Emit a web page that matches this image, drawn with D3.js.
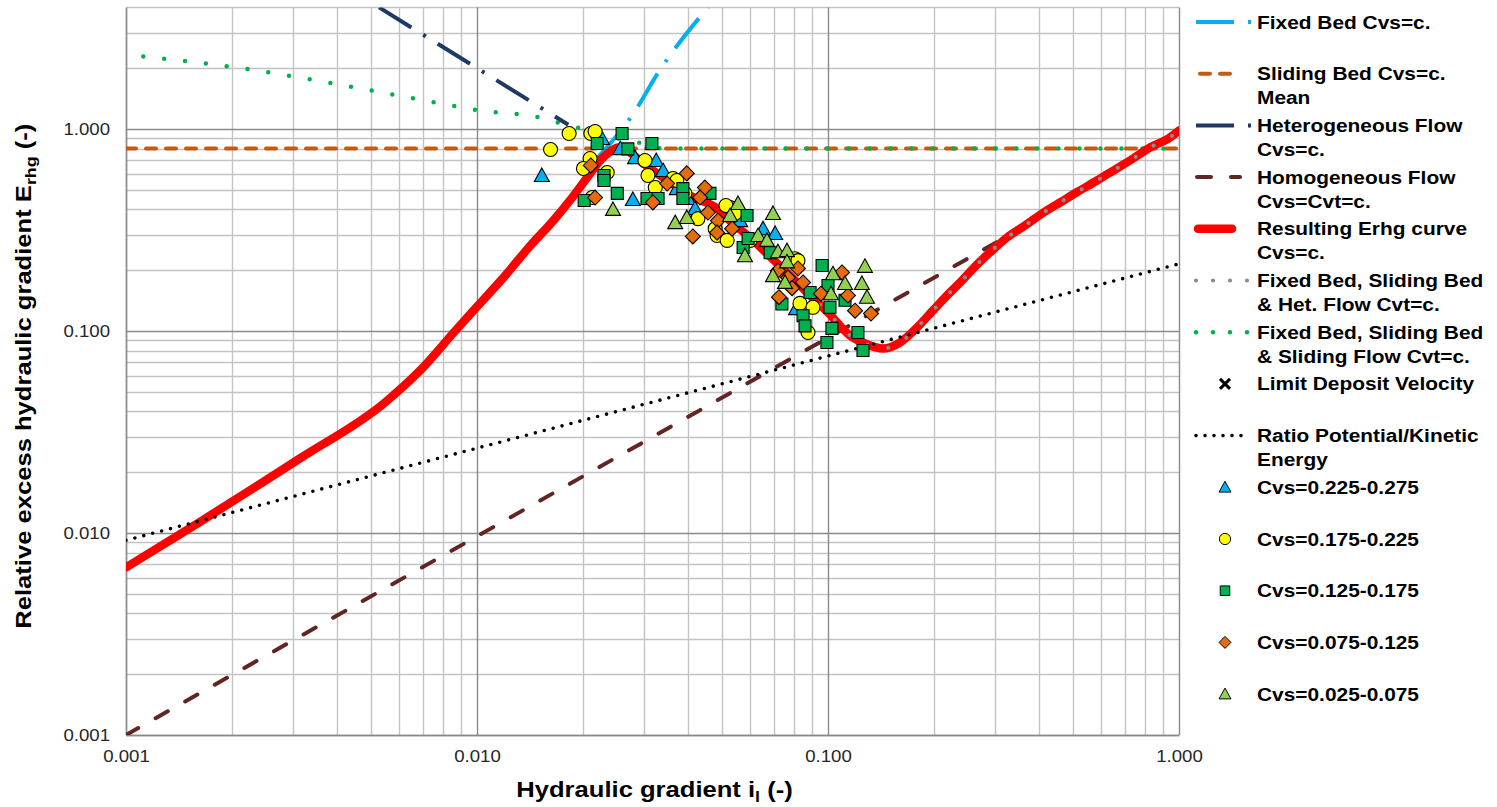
<!DOCTYPE html>
<html><head><meta charset="utf-8">
<script src="https://cdn.jsdelivr.net/npm/d3@7"></script>
<style>body{margin:0;background:#fff;} text{font-family:"Liberation Sans",Arial,sans-serif;}</style>
</head><body><svg id="chart" width="1497" height="807"></svg>
<script>
// ---------------- data ----------------
const xTickValues = [0.001, 0.01, 0.1, 1];
const xTickLabels = ["0.001", "0.010", "0.100", "1.000"];
const yTickValues = [0.001, 0.01, 0.1, 1];
const yTickLabels = ["0.001", "0.010", "0.100", "1.000"];

const fixedBed = [[0.0217,0.70],[0.0277,1.17],[0.0332,1.96],[0.0455,4.0]];
const slidingBed = [[0.001,0.80],[1,0.80]];
const heterogeneous = [[0.00526,4.0],[0.0182,1.05]];
const homogeneous = [[0.001,0.001],[0.33,0.30]];
const resulting = [[0.001,0.00675],[0.00163,0.0114],[0.00313,0.0234],[0.00547,0.0443],[0.00688,0.0637],
  [0.00866,0.10],[0.01,0.132],[0.0117,0.178],[0.0142,0.265],[0.0165,0.352],[0.0184,0.443],[0.0206,0.575],
  [0.0227,0.714],[0.0244,0.79],[0.0252,0.81],[0.0273,0.765],[0.0291,0.698],[0.0311,0.638],[0.0339,0.575],
  [0.0404,0.469],[0.0483,0.404],[0.0536,0.340],[0.0600,0.290],[0.0670,0.242],[0.0779,0.188],[0.0889,0.150],
  [0.100,0.1235],[0.1155,0.0950],[0.1274,0.0867],[0.1435,0.0819],[0.1603,0.0877],[0.1794,0.1041],
  [0.199,0.1263],[0.2183,0.1499],[0.2409,0.1778],[0.2641,0.211],[0.2933,0.2503],[0.3236,0.2903],
  [0.364,0.333],[0.4072,0.3817],[0.4581,0.4327],[0.5157,0.4904],[0.5841,0.5559],[0.6574,0.6302],
  [0.7396,0.7144],[0.8268,0.8099],[0.9428,0.9077],[1.0,0.983]];
const fixedSlidingHet = [[0.0779,0.188],[0.0889,0.150],[0.100,0.1235],[0.1155,0.0950],[0.1274,0.0867],
  [0.1435,0.0819],[0.1603,0.0877],[0.1794,0.1041],[0.199,0.1263],[0.2183,0.1499],[0.2409,0.1778],
  [0.2641,0.211],[0.2933,0.2503],[0.3236,0.2903],[0.364,0.333],[0.4072,0.3817],[0.4581,0.4327],
  [0.5157,0.4904],[0.5841,0.5559],[0.6574,0.6302],[0.7396,0.7144],[0.8268,0.8099],[0.9428,0.9077],[1.0,0.983]];
const fixedSlidingFlow = [[0.00112,2.285],[0.00226,1.971],[0.00435,1.623],[0.00735,1.368],[0.0102,1.235],
  [0.0151,1.14],[0.0174,1.065],[0.0198,1.006],[0.0239,0.918],[0.0295,0.848],[0.0339,0.801],[1.0,0.801]];
const limitDeposit = [];
const ratioPotKin = [[0.001,0.0092],[1,0.215]];

const cvs225 = [[0.0153,0.589],[0.0227,0.897],[0.0256,0.80],[0.0282,0.722],[0.0324,0.698],[0.0278,0.448],
  [0.0339,0.623],[0.0371,0.507],[0.0399,0.453],[0.0418,0.404],[0.0562,0.352],[0.0653,0.321],[0.0707,0.304],
  [0.0811,0.129],[0.0551,0.404]];
const cvs175 = [[0.0183,0.950],[0.0162,0.792],[0.0211,0.950],[0.0217,0.972],[0.0210,0.714],[0.0201,0.638],
  [0.0235,0.609],[0.0301,0.698],[0.0307,0.589],[0.0322,0.513],[0.0213,0.458],[0.0362,0.569],[0.0391,0.480],
  [0.0426,0.360],[0.0477,0.321],[0.0483,0.297],[0.0516,0.281],[0.0526,0.409],[0.0543,0.382],[0.0600,0.281],
  [0.0805,0.228],[0.0832,0.137],[0.0906,0.131],[0.0877,0.0983],[0.0371,0.556],[0.0512,0.418],[0.0821,0.223]];
const cvs125 = [[0.0259,0.950],[0.0220,0.848],[0.0269,0.797],[0.0315,0.848],[0.0230,0.589],[0.0230,0.556],
  [0.0251,0.480],[0.0202,0.443],[0.0305,0.453],[0.0328,0.453],[0.0386,0.507],[0.0461,0.480],[0.0588,0.373],
  [0.0573,0.259],[0.0592,0.287],[0.0684,0.244],[0.0962,0.211],[0.1000,0.168],[0.1118,0.142],[0.1013,0.131],
  [0.0889,0.155],[0.0739,0.136],[0.0849,0.119],[0.0860,0.106],[0.1026,0.103],[0.1217,0.0983],[0.0993,0.0877],
  [0.1258,0.0801],[0.0386,0.453]];
const cvs075 = [[0.0211,0.660],[0.0217,0.458],[0.0317,0.433],[0.0396,0.603],[0.0348,0.537],[0.0446,0.513],
  [0.0432,0.458],[0.0455,0.386],[0.0486,0.352],[0.0412,0.294],[0.0483,0.307],[0.0533,0.321],[0.0720,0.199],
  [0.0769,0.184],[0.0821,0.204],[0.0849,0.174],[0.0790,0.163],[0.0725,0.147],[0.0955,0.153],[0.1096,0.195],
  [0.1194,0.126],[0.1326,0.122],[0.1140,0.150]];
const cvs025 = [[0.0244,0.400],[0.0367,0.344],[0.0396,0.365],[0.0554,0.428],[0.0526,0.373],[0.0697,0.382],
  [0.0632,0.297],[0.0580,0.236],[0.0670,0.281],[0.0720,0.247],[0.0764,0.250],[0.0764,0.220],[0.0697,0.188],
  [0.0754,0.174],[0.1033,0.192],[0.1118,0.172],[0.1274,0.209],[0.1249,0.172],[0.1291,0.147],[0.1020,0.153]];

// ---------------- chart ----------------
const svg = d3.select("#chart");
const L = 126, R = 1179, T = 7.4, B = 735;
const x = d3.scaleLog().domain([0.001, 1]).range([L, R]);
const y = d3.scaleLog().domain([0.001, 4]).range([B, T]);
const FONT = '"Liberation Sans",Arial,sans-serif';

svg.append("defs").append("clipPath").attr("id","clip")
  .append("rect").attr("x",L).attr("y",T).attr("width",R-L).attr("height",B-T);

// gridlines
const minorX = [], majorX = [];
for (let d = 0.001; d < 1; d *= 10) { majorX.push(d); for (let k = 2; k <= 9; k++) minorX.push(d*k); }
majorX.push(1);
const minorY = [], majorY = [];
for (let d = 0.001; d < 4; d *= 10) { majorY.push(d); for (let k = 2; k <= 9; k++) if (d*k <= 4.0001) minorY.push(d*k); }
const grid = svg.append("g");
grid.selectAll(".mx").data(minorX).join("line")
  .attr("x1", d => Math.round(x(d))+0.5).attr("x2", d => Math.round(x(d))+0.5)
  .attr("y1", T).attr("y2", B).attr("stroke", "#c3c3c3").attr("stroke-width", 1.4);
grid.selectAll(".my").data(minorY).join("line")
  .attr("y1", d => Math.round(y(d))+0.5).attr("y2", d => Math.round(y(d))+0.5)
  .attr("x1", L).attr("x2", R).attr("stroke", "#c3c3c3").attr("stroke-width", 1.4);
grid.selectAll(".Mx").data(majorX).join("line")
  .attr("x1", d => Math.round(x(d))+0.5).attr("x2", d => Math.round(x(d))+0.5)
  .attr("y1", T).attr("y2", B).attr("stroke", "#8a8a8a").attr("stroke-width", 1.4);
grid.selectAll(".My").data(majorY).join("line")
  .attr("y1", d => Math.round(y(d))+0.5).attr("y2", d => Math.round(y(d))+0.5)
  .attr("x1", L).attr("x2", R).attr("stroke", "#8a8a8a").attr("stroke-width", 1.4);

// axes
const TS = 1.13; // horizontal stretch of text, as in the reference
const xAxis = d3.axisBottom(x).tickValues(xTickValues).tickFormat((d,i)=>xTickLabels[i]).tickSize(0).tickPadding(15);
const yAxis = d3.axisLeft(y).tickValues(yTickValues).tickFormat((d,i)=>yTickLabels[i]).tickSize(0);
const gx = svg.append("g").attr("transform", `translate(0,${B})`).call(xAxis);
const gy = svg.append("g").attr("transform", `translate(${L},0)`).call(yAxis);
[gx, gy].forEach(g => {
  g.select(".domain").attr("stroke", "#8a8a8a").attr("stroke-width", 1.4);
  g.selectAll("text").attr("font-size", 16.5).attr("fill", "#262626").attr("font-family", FONT)
    .attr("transform", `scale(${TS},1)`);
});
gy.selectAll("text").attr("x", -16 / TS);

// axis titles
const AS = 1.19;
const yt = svg.append("text").attr("transform", `translate(31,${(T+B)/2 + 5}) rotate(-90) scale(${AS},1)`)
  .attr("text-anchor","middle").attr("font-size",21.5).attr("font-weight","bold").attr("fill","#000");
yt.append("tspan").text("Relative excess hydraulic gradient E");
yt.append("tspan").text("rhg").attr("font-size",15).attr("dy",5);
yt.append("tspan").text(" (-)").attr("dy",-5);
const xt = svg.append("text").attr("transform", `translate(${(L+R)/2+2},797) scale(${AS},1)`)
  .attr("text-anchor","middle").attr("font-size",21.5).attr("font-weight","bold").attr("fill","#000");
xt.append("tspan").text("Hydraulic gradient i");
xt.append("tspan").text("l").attr("font-size",15).attr("dy",5);
xt.append("tspan").text(" (-)").attr("dy",-5);

// lines
const line = d3.line().x(d => x(d[0])).y(d => y(d[1]));
const curveLine = d3.line().x(d => x(d[0])).y(d => y(d[1])).curve(d3.curveMonotoneX);
const plot = svg.append("g").attr("clip-path","url(#clip)");
const styles = {
  fixedBed: {stroke:"#00b0f0", width:4, dash:"38,14,3,14", cap:"butt"},
  sliding: {stroke:"#c55a11", width:4, dash:"10,10", cap:"round"},
  het: {stroke:"#203864", width:4, dash:"38,14,3,14", cap:"butt"},
  homo: {stroke:"#632523", width:4, dash:"14,20", cap:"round"},
  result: {stroke:"#ff0000", width:8.5, dash:null, cap:"round"},
  gray: {stroke:"#8c8c8c", width:4.2, dash:"0,21", cap:"round"},
  green: {stroke:"#00b050", width:4.5, dash:"0,21", cap:"round"},
  ratio: {stroke:"#000", width:3.6, dash:"0,9.2", cap:"round"}
};
function draw(data, st, gen) {
  plot.append("path").datum(data).attr("d", (gen||line)).attr("fill","none")
    .attr("stroke", st.stroke).attr("stroke-width", st.width)
    .attr("stroke-dasharray", st.dash).attr("stroke-linecap", st.cap).attr("stroke-linejoin","round");
}
draw(homogeneous, styles.homo);
draw(slidingBed, styles.sliding);
draw(fixedSlidingFlow, styles.green, curveLine);
draw(heterogeneous, styles.het);
draw(fixedBed, styles.fixedBed, curveLine);
draw(resulting, styles.result, curveLine);
draw(ratioPotKin, styles.ratio);
draw(fixedSlidingHet, styles.gray, curveLine);

// markers
const markerDefs = {
  tri1: {fill:"#00b0f0", shape:"tri"},
  circ: {fill:"#ffff00", shape:"circle"},
  sq: {fill:"#00b050", shape:"square"},
  dia: {fill:"#e46c0a", shape:"diamond"},
  tri2: {fill:"#92d050", shape:"tri"}
};
function shapePath(shape) {
  if (shape === "tri") return "M0,-7.5L7.5,6L-7.5,6Z";
  if (shape === "square") return "M-6,-6H6V6H-6Z";
  if (shape === "diamond") return "M0,-7.5L7.5,0L0,7.5L-7.5,0Z";
  return "M7,0A7,7 0 1,1 -7,0A7,7 0 1,1 7,0Z";
}
function drawMarkers(data, md, g) {
  g.selectAll(null).data(data).join("path")
    .attr("transform", d => `translate(${x(d[0])},${y(d[1])})`)
    .attr("d", shapePath(md.shape)).attr("fill", md.fill).attr("stroke","#000").attr("stroke-width",1.1);
}
const mg = svg.append("g");
drawMarkers(cvs225, markerDefs.tri1, mg.append("g"));
drawMarkers(cvs175, markerDefs.circ, mg.append("g"));
drawMarkers(cvs125, markerDefs.sq, mg.append("g"));
drawMarkers(cvs075, markerDefs.dia, mg.append("g"));
drawMarkers(cvs025, markerDefs.tri2, mg.append("g"));

// legend
const legendItems = [
  {lines:["Fixed Bed Cvs=c."], type:"line", st:styles.fixedBed},
  {lines:["Sliding Bed Cvs=c.","Mean"], type:"line", st:styles.sliding},
  {lines:["Heterogeneous Flow","Cvs=c."], type:"line", st:styles.het},
  {lines:["Homogeneous Flow","Cvs=Cvt=c."], type:"line", st:styles.homo},
  {lines:["Resulting Erhg curve","Cvs=c."], type:"line", st:styles.result},
  {lines:["Fixed Bed, Sliding Bed","& Het. Flow Cvt=c."], type:"line", st:{...styles.gray, dash:"0,17"}},
  {lines:["Fixed Bed, Sliding Bed","& Sliding Flow Cvt=c."], type:"line", st:{...styles.green, dash:"0,17"}},
  {lines:["Limit Deposit Velocity"], type:"x"},
  {lines:["Ratio Potential/Kinetic","Energy"], type:"line", st:{...styles.ratio, dash:"0,9"}},
  {lines:["Cvs=0.225-0.275"], type:"marker", md:markerDefs.tri1},
  {lines:["Cvs=0.175-0.225"], type:"marker", md:markerDefs.circ},
  {lines:["Cvs=0.125-0.175"], type:"marker", md:markerDefs.sq},
  {lines:["Cvs=0.075-0.125"], type:"marker", md:markerDefs.dia},
  {lines:["Cvs=0.025-0.075"], type:"marker", md:markerDefs.tri2}
];
const lg = svg.append("g");
legendItems.forEach((it, k) => {
  const cy = 22 + k*51.7;
  const g = lg.append("g");
  if (it.type === "line") {
    const st = it.st;
    let x1 = 1196, x2 = 1252;
    if (st === styles.result) { x1 = 1198; x2 = 1232; }
    if (st === styles.sliding) { x1 = 1200; x2 = 1232; }
    if (st === styles.homo) { x1 = 1197; x2 = 1240; }
    if (st.dash && st.dash.startsWith("0,")) { x1 = 1196; x2 = 1250; }
    g.append("line").attr("x1",x1).attr("x2",x2).attr("y1",cy).attr("y2",cy)
      .attr("stroke",st.stroke).attr("stroke-width",st.width).attr("stroke-dasharray",st.dash)
      .attr("stroke-linecap",st.cap);
  } else if (it.type === "x") {
    g.append("path").attr("d",`M${1225-5},${cy-5}L${1225+5},${cy+5}M${1225-5},${cy+5}L${1225+5},${cy-5}`)
      .attr("stroke","#000").attr("stroke-width",3);
  } else {
    g.append("path").attr("transform",`translate(1225,${cy}) scale(0.8)`).attr("d",shapePath(it.md.shape))
      .attr("fill",it.md.fill).attr("stroke","#000").attr("stroke-width",1.2);
  }
  it.lines.forEach((t, j) => {
    g.append("text").attr("transform",`translate(1257,${cy + 6.5 + j*24}) scale(1.13,1)`).text(t)
      .attr("font-size",18.5).attr("font-weight","bold").attr("fill","#000");
  });
});
</script></body></html>
